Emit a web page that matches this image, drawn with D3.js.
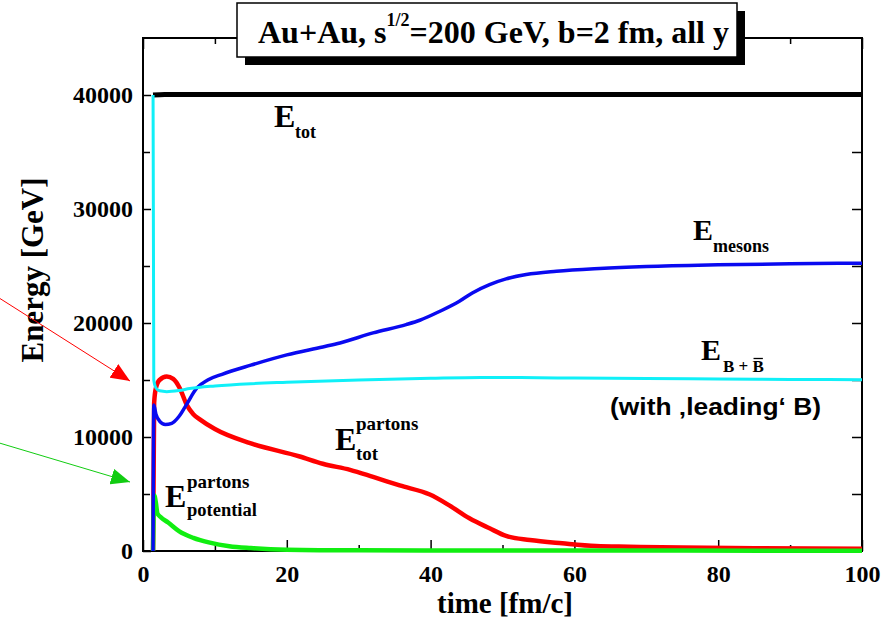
<!DOCTYPE html>
<html>
<head>
<meta charset="utf-8">
<title>Au+Au energy balance</title>
<script src="https://cdn.jsdelivr.net/npm/d3@7"></script>
<style>
  body { margin: 0; background: #fff; }
  svg { display: block; background: #fff; }
  .serif { font-family: "Liberation Serif", "Times New Roman", serif; font-weight: bold; fill: #000; }
  .sans { font-family: "Liberation Sans", Arial, sans-serif; font-weight: bold; fill: #000; }
  .axis text { font-family: "Liberation Serif", "Times New Roman", serif; font-weight: bold; font-size: 24px; fill: #000; }
  .axis path { display: none; }
  .axis line { stroke: #000; stroke-width: 1.5px; }
</style>
</head>
<body>
<svg id="chart" width="896" height="623"></svg>
<script>
// time [fm/c] and energy [GeV], one pair of arrays per curve
const totTime = [1.4, 3, 10, 30, 60, 100];
const totEnergy = [40000, 40050, 40050, 40050, 40050, 40050];

const baryonTime = [1.4, 1.5, 1.8, 2.3, 3.3, 5, 6.5, 10, 15, 20, 30, 40, 47, 55, 60, 70, 80, 90, 100];
const baryonEnergy = [40000, 15000, 14300, 14050, 13980, 14080, 14250, 14480, 14680, 14800, 15000, 15150, 15220, 15200, 15170, 15130, 15080, 15050, 15030];

const mesonTime = [1.4, 1.5, 1.8, 2.3, 3.1, 4, 5, 6, 7.5, 9, 11, 15, 20, 25, 27.4, 32, 36.6, 38.5, 41.3, 44, 45.8, 48.2, 50.5, 53.3, 57.5, 63.5, 70, 80, 90, 100];
const mesonEnergy = [0, 12800, 12000, 11400, 11100, 11200, 11800, 12800, 14300, 15000, 15500, 16300, 17200, 17900, 18250, 19130, 19860, 20240, 21030, 21910, 22640, 23370, 23870, 24250, 24540, 24780, 24950, 25100, 25200, 25250];

const partonTime = [1.4, 1.55, 1.8, 2.3, 3.3, 4.2, 5.1, 6.1, 7, 7.9, 10, 14.9, 21.8, 25, 28.8, 32, 35.7, 39.9, 42.6, 45.4, 48.2, 50.5, 53.8, 58.3, 63, 67.6, 75, 85, 100];
const partonEnergy = [0, 13000, 14300, 15000, 15300, 15100, 14300, 12800, 12000, 11550, 10700, 9460, 8290, 7650, 7120, 6500, 5750, 4950, 4000, 2870, 1990, 1320, 970, 680, 440, 380, 300, 240, 200];

const potentialTime = [1.4, 1.55, 1.8, 2, 2.5, 3.5, 5, 7, 9.3, 12, 15, 20, 30, 50, 100];
const potentialEnergy = [0, 4900, 4200, 3300, 2950, 2500, 1750, 1150, 730, 420, 260, 120, 60, 40, 30];

const xMajorTicks = [0, 20, 40, 60, 80, 100];
const xMinorTicks = [10, 30, 50, 70, 90];
const yMajorTicks = [0, 10000, 20000, 30000, 40000];
const yMinorTicks = [5000, 15000, 25000, 35000];

const svg = d3.select("#chart");
const plotLeft = 143, plotRight = 862, plotTop = 38, plotBottom = 551;

const x = d3.scaleLinear().domain([0, 100]).range([plotLeft, plotRight]);
const y = d3.scaleLinear().domain([0, 45000]).range([plotBottom, plotTop]);

// frame
svg.append("rect")
  .attr("x", plotLeft).attr("y", plotTop)
  .attr("width", plotRight - plotLeft).attr("height", plotBottom - plotTop)
  .attr("fill", "none").attr("stroke", "#000").attr("stroke-width", 2);

// ticks (inward, on all four sides)
function addAxis(axis, tx, ty) {
  svg.append("g").attr("class", "axis")
    .attr("transform", `translate(${tx},${ty})`)
    .call(axis);
}
addAxis(d3.axisBottom(x).tickValues(xMajorTicks).tickSize(-11).tickPadding(14).tickFormat(d3.format("d")), 0, plotBottom);
addAxis(d3.axisBottom(x).tickValues(xMinorTicks).tickSize(-6).tickFormat(""), 0, plotBottom);
addAxis(d3.axisTop(x).tickValues(xMajorTicks).tickSize(-11).tickFormat(""), 0, plotTop);
addAxis(d3.axisTop(x).tickValues(xMinorTicks).tickSize(-6).tickFormat(""), 0, plotTop);
addAxis(d3.axisLeft(y).tickValues(yMajorTicks).tickSize(-8).tickPadding(10).tickFormat(d3.format("d")), plotLeft, 0);
addAxis(d3.axisLeft(y).tickValues(yMinorTicks).tickSize(-7).tickFormat(""), plotLeft, 0);
addAxis(d3.axisRight(y).tickValues(yMajorTicks).tickSize(-10).tickFormat(""), plotRight, 0);
addAxis(d3.axisRight(y).tickValues(yMinorTicks).tickSize(-10).tickFormat(""), plotRight, 0);

// curves
const line = d3.line()
  .x(d => x(d[0]))
  .y(d => y(d[1]))
  .curve(d3.curveMonotoneX);

const curves = [
  { t: totTime, e: totEnergy, color: "#000000", width: 5 },
  { t: partonTime, e: partonEnergy, color: "#ff0000", width: 4.5 },
  { t: potentialTime, e: potentialEnergy, color: "#11ee11", width: 4.5 },
  { t: mesonTime, e: mesonEnergy, color: "#0a0af0", width: 3.5 },
  { t: baryonTime, e: baryonEnergy, color: "#10f0f8", width: 3 }
];

curves.forEach(c => {
  svg.append("path")
    .datum(d3.zip(c.t, c.e))
    .attr("fill", "none")
    .attr("stroke", c.color)
    .attr("stroke-width", c.width)
    .attr("stroke-linejoin", "round")
    .attr("d", line);
});

// title box with shadow
svg.append("rect").attr("x", 245).attr("y", 11).attr("width", 500).attr("height", 54).attr("fill", "#000");
svg.append("rect").attr("x", 237).attr("y", 3).attr("width", 500).attr("height", 54)
  .attr("fill", "#fff").attr("stroke", "#000").attr("stroke-width", 1.5);
const title = svg.append("text").attr("class", "serif").attr("x", 258).attr("y", 43).style("font-size", "32px");
title.append("tspan").text("Au+Au, s");
title.append("tspan").attr("dy", -17).style("font-size", "18px").text("1/2");
title.append("tspan").attr("dy", 17).text("=200 GeV, b=2 fm, all y");

// axis titles
svg.append("text").attr("class", "serif")
  .attr("transform", "translate(43,270) rotate(-90)")
  .attr("text-anchor", "middle")
  .style("font-size", "31px")
  .text("Energy [GeV]");

svg.append("text").attr("class", "serif")
  .attr("x", 505).attr("y", 613)
  .attr("text-anchor", "middle")
  .style("font-size", "29px")
  .text("time [fm/c]");

// curve labels
function label(px, py, size, str) {
  svg.append("text").attr("class", "serif")
    .attr("x", px).attr("y", py)
    .style("font-size", size + "px")
    .text(str);
}
label(274, 127, 32, "E");
label(295, 138, 18, "tot");

label(693, 240, 30, "E");
label(713, 252, 18, "mesons");

label(701, 360, 30, "E");
const sub = svg.append("text").attr("class", "serif")
  .attr("x", 723).attr("y", 372).style("font-size", "17px").style("white-space", "pre");
const firstPart = sub.append("tspan").text("B + ");
const lastB = sub.append("tspan").text("B");
const bStart = 723 + firstPart.node().getComputedTextLength();
const bWidth = lastB.node().getComputedTextLength();
svg.append("line")
  .attr("x1", bStart + 1).attr("x2", bStart + bWidth - 1)
  .attr("y1", 358.5).attr("y2", 358.5)
  .attr("stroke", "#000").attr("stroke-width", 1.3);

svg.append("text").attr("class", "sans")
  .attr("x", 610).attr("y", 415)
  .attr("textLength", 211).attr("lengthAdjust", "spacingAndGlyphs")
  .style("font-size", "24px")
  .text("(with \u201Aleading\u2018 B)");

label(335, 450, 32, "E");
label(356, 430, 19, "partons");
label(356, 460, 19, "tot");

label(165, 507, 32, "E");
label(187, 488, 19, "partons");
label(187, 516, 18.5, "potential");

// annotation arrows
const defs = svg.append("defs");
[["arrowRed", "#ff0000"], ["arrowGreen", "#11cc11"]].forEach(([id, col]) => {
  defs.append("marker")
    .attr("id", id)
    .attr("markerUnits", "userSpaceOnUse")
    .attr("markerWidth", 20).attr("markerHeight", 16)
    .attr("refX", 19).attr("refY", 8)
    .attr("orient", "auto")
    .append("path")
    .attr("d", "M0,0 L19,8 L0,16 Z")
    .attr("fill", col);
});
svg.append("line")
  .attr("x1", -4).attr("y1", 296).attr("x2", 130).attr("y2", 381)
  .attr("stroke", "#ff0000").attr("stroke-width", 1)
  .attr("marker-end", "url(#arrowRed)");
svg.append("line")
  .attr("x1", -4).attr("y1", 442).attr("x2", 130).attr("y2", 482)
  .attr("stroke", "#11cc11").attr("stroke-width", 1)
  .attr("marker-end", "url(#arrowGreen)");
</script>
</body>
</html>
